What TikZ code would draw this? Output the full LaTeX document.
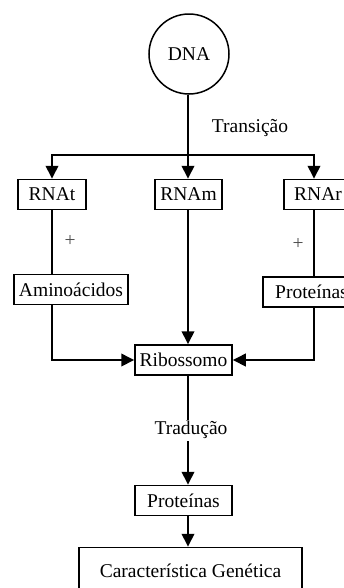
\documentclass[tikz,border=0pt]{standalone}
\usepackage{fontspec}
\setmainfont{Liberation Serif}
\usetikzlibrary{arrows.meta}

\begin{document}
\begin{tikzpicture}[x=0.2mm,y=-0.2mm]
\tikzset{caixa/.style={draw, line width=0.3mm, inner sep=0pt, minimum height=6mm, font=\fontsize{11.1}{13}\selectfont},
  rotulo/.style={inner sep=1pt, font=\fontsize{11.1}{13}\selectfont},
  liga/.style={line width=0.4mm, -{Triangle[length=2.6mm,width=2.5mm]}}}
\clip (0, 0) rectangle (344, 588);
\node[draw, circle, line width=0.3mm, minimum size=16mm, font=\fontsize{11.1}{13}\selectfont] (DNA) at (189, 54) {DNA};
\node[caixa, minimum width=13.6mm] (RNAt) at (52, 194.5) {RNAt};
\node[caixa, minimum width=13.4mm] (RNAm) at (188.5, 194.5) {RNAm};
\node[caixa, minimum width=13.6mm] (RNAr) at (318, 194.5) {RNAr};
\node[caixa, minimum width=22.8mm] (Amino) at (71, 289.5) {Aminoácidos};
\node[caixa, minimum width=19.4mm] (ProtR) at (311.5, 292) {Proteínas};
\node[caixa, minimum width=19.4mm] (Ribo) at (183.5, 360) {Ribossomo};
\node[caixa, minimum width=19.4mm] (Prot) at (183.5, 500.5) {Proteínas};
\node[caixa, minimum width=44.6mm, minimum height=9.4mm] (Carac) at (190.5, 571) {Característica Genética};
\node[rotulo] (Trans) at (250, 128) {Transição};
\node[rotulo, text=black!70] (MaisT) at (70, 241) {+};
\node[rotulo, text=black!70] (MaisR) at (298, 244) {+};
\coordinate (Div) at (188, 155);
\coordinate (ColR) at (314, 155);
\draw[line width=0.4mm] (DNA.south -| Div) -- (Div);
\draw[liga] (Div) -- (RNAm.north -| Div);
\draw[liga] (Div) -| (RNAt.north);
\draw[liga] (Div) -- (ColR) -- (RNAr.north -| ColR);
\draw[line width=0.4mm] (RNAt) -- (RNAt |- Amino.north);
\draw[line width=0.4mm] (RNAr.south -| ColR) -- (ProtR.north -| ColR);
\draw[liga] (RNAm.south -| Div) -- (Ribo.north -| Div);
\draw[liga] (Amino.south -| RNAt) |- (Ribo.west);
\draw[liga] (ProtR.south -| ColR) |- (Ribo.east);
\draw[liga] (Ribo.south -| Div) -- node[rotulo, fill=white, xshift=0.6mm] (Trad) {Tradução} (Prot.north -| Div);
\draw[liga] (Prot.south -| Div) -- (Carac.north -| Div);
\end{tikzpicture}
\end{document}
